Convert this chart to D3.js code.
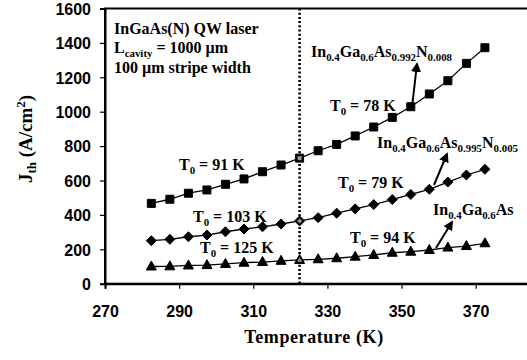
<!DOCTYPE html>
<meta charset="utf-8">
<script src="https://d3js.org/d3.v7.min.js"></script>
<style>
  body { margin: 0; background: #fff; }
  .tick text { font-family: "Liberation Sans", Arial, sans-serif; font-weight: bold; font-size: 16px; fill: #000; }
  .serif { font-family: "Liberation Serif", "Times New Roman", serif; font-weight: bold; fill: #000; }
</style>
<div id="chart"></div>
<script>
// temperatures (K)
var temps = [282.5, 287.5, 292.5, 297.5, 302.5, 307.5, 312.5, 317.5, 322.5, 327.5,
             332.5, 337.5, 342.5, 347.5, 352.5, 357.5, 362.5, 367.5, 372.5];

// threshold current density (A/cm^2)
var jN008 = [467, 491, 526, 545, 578, 609, 651, 690, 730, 773, 810, 859, 911, 967, 1029, 1103, 1180, 1281, 1372];
var jN005 = [250, 258, 273, 283, 302, 318, 331, 347, 365, 384, 410, 435, 460, 489, 519, 549, 591, 632, 665];
var jInGaAs = [100, 101, 106, 108, 115, 122, 126, 133, 138, 142, 148, 157, 167, 180, 186, 196, 210, 219, 235];

var xTicks = [270, 290, 310, 330, 350, 370];
var yTicks = [0, 200, 400, 600, 800, 1000, 1200, 1400, 1600];
var markerTemp = 322.5;

var W = 527, H = 360;
var svg = d3.select("#chart").append("svg")
    .attr("width", W).attr("height", H);

var x = d3.scaleLinear().domain([270, 390]).range([105, 549.8]);
var y = d3.scaleLinear().domain([0, 1600]).range([283.7, 8.5]);

// frame (right side runs off the picture)
svg.append("rect")
    .attr("x", x(270)).attr("y", y(1600))
    .attr("width", x(390) - x(270)).attr("height", y(0) - y(1600))
    .attr("fill", "none").attr("stroke", "#000").attr("stroke-width", 2);

// axes
var xAxis = svg.append("g")
    .attr("transform", "translate(0," + y(0) + ")")
    .call(d3.axisBottom(x).tickValues(xTicks).tickSize(5).tickPadding(17).tickFormat(d3.format("d")));
var yAxis = svg.append("g")
    .attr("transform", "translate(" + x(270) + ",0)")
    .call(d3.axisLeft(y).tickValues(yTicks).tickSize(5).tickPadding(9).tickFormat(d3.format("d")));
[xAxis, yAxis].forEach(function(a) {
  a.select(".domain").attr("stroke-width", 2);
  a.selectAll(".tick line").attr("stroke-width", 1.2);
});
yAxis.selectAll(".tick text").attr("dy", "0.36em");

// dotted reference line
svg.append("line")
    .attr("x1", x(markerTemp)).attr("x2", x(markerTemp))
    .attr("y1", y(1600)).attr("y2", y(0))
    .attr("stroke", "#000").attr("stroke-width", 2.6)
    .attr("stroke-dasharray", "2,2.2");

var series = [
  {vals: jN008, shape: "square"},
  {vals: jN005, shape: "diamond"},
  {vals: jInGaAs, shape: "triangle"}
];

var line = d3.line()
    .x(function(d) { return x(d[0]); })
    .y(function(d) { return y(d[1]); });

function shapePath(s) {
  if (s == "square") return "M-4,-4H4V4H-4Z";
  if (s == "diamond") return "M0,-5L5,0L0,5L-5,0Z";
  return "M0,-5.5L5,3.5H-5Z";
}

series.forEach(function(s) {
  var pts = temps.map(function(t, i) { return [t, s.vals[i]]; });
  svg.append("path")
      .datum(pts)
      .attr("fill", "none").attr("stroke", "#000").attr("stroke-width", 1.3)
      .attr("d", line);
  svg.selectAll(null)
      .data(pts)
      .enter().append("path")
      .attr("d", shapePath(s.shape))
      .attr("transform", function(d) { return "translate(" + x(d[0]) + "," + y(d[1]) + ")"; })
      .attr("fill", "#000")
      .attr("stroke", "#000").attr("stroke-width", 1);
  // the point on the dotted line has a grey centre
  svg.selectAll(null)
      .data(pts.filter(function(d) { return d[0] == markerTemp; }))
      .enter().append("path")
      .attr("d", shapePath(s.shape))
      .attr("transform", function(d) { return "translate(" + x(d[0]) + "," + y(d[1]) + ") scale(0.5)"; })
      .attr("fill", "#999");
});

// text with sub/superscripts
function rich(g, px, py, parts, size) {
  var t = g.append("text").attr("class", "serif")
      .attr("x", px).attr("y", py).style("font-size", size + "px");
  var shift = 0;
  parts.forEach(function(p) {
    var target = p[1] == "sub" ? 4 : p[1] == "sup" ? -7 : 0;
    t.append("tspan")
        .attr("dy", target - shift)
        .style("font-size", p[1] ? (size * 0.68) + "px" : size + "px")
        .text(p[0]);
    shift = target;
  });
  return t;
}

var fs = 16;
rich(svg, 114, 34, [["InGaAs(N) QW laser"]], fs);
rich(svg, 114, 53, [["L"], ["cavity", "sub"], [" = 1000 \u00b5m"]], fs);
rich(svg, 114, 73, [["100 \u00b5m stripe width"]], fs);

rich(svg, 311, 57, [["In"], ["0.4", "sub"], ["Ga"], ["0.6", "sub"], ["As"], ["0.992", "sub"], ["N"], ["0.008", "sub"]], fs);
rich(svg, 377, 148, [["In"], ["0.4", "sub"], ["Ga"], ["0.6", "sub"], ["As"], ["0.995", "sub"], ["N"], ["0.005", "sub"]], fs);
rich(svg, 433, 215, [["In"], ["0.4", "sub"], ["Ga"], ["0.6", "sub"], ["As"]], fs);

rich(svg, 330, 111, [["T"], ["0", "sub"], [" = 78 K"]], fs);
rich(svg, 338, 188, [["T"], ["0", "sub"], [" = 79 K"]], fs);
rich(svg, 350, 243, [["T"], ["0", "sub"], [" = 94 K"]], fs);
rich(svg, 179, 170, [["T"], ["0", "sub"], [" = 91 K"]], fs);
rich(svg, 193, 222, [["T"], ["0", "sub"], [" = 103 K"]], fs);
rich(svg, 200, 253, [["T"], ["0", "sub"], [" = 125 K"]], fs);

// arrows
svg.append("defs").append("marker")
    .attr("id", "head").attr("viewBox", "0 0 10 10")
    .attr("refX", 8).attr("refY", 5)
    .attr("markerWidth", 5).attr("markerHeight", 5)
    .attr("markerUnits", "strokeWidth").attr("orient", "auto")
  .append("path").attr("d", "M0,0L10,5L0,10Z").attr("fill", "#000");

var arrows = [[412, 107, 417, 64], [434, 185, 447, 154], [436, 248, 452, 222]];
arrows.forEach(function(a) {
  svg.append("line")
      .attr("x1", a[0]).attr("y1", a[1]).attr("x2", a[2]).attr("y2", a[3])
      .attr("stroke", "#000").attr("stroke-width", 2)
      .attr("marker-end", "url(#head)");
});

// axis titles
svg.append("text").attr("class", "serif")
    .attr("x", 314).attr("y", 343).attr("text-anchor", "middle")
    .style("font-size", "18px").style("letter-spacing", "0.6px")
    .text("Temperature (K)");

var yt = svg.append("g").attr("transform", "translate(32,139) rotate(-90)");
rich(yt, 0, 0, [["J"], ["th", "sub"], [" (A/cm"], ["2", "sup"], [")"]], 19)
    .attr("text-anchor", "middle");
</script>
